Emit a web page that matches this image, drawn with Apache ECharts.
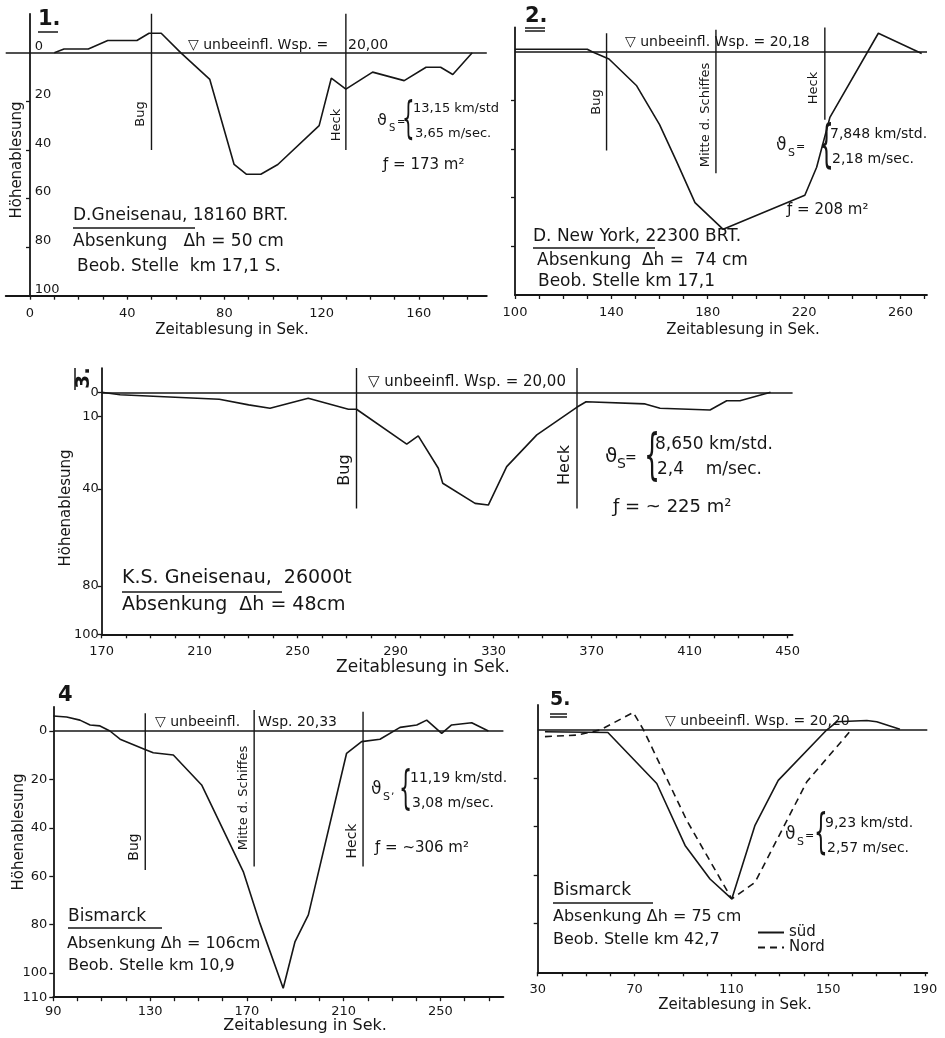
<!DOCTYPE html>
<html lang="de">
<head>
<meta charset="UTF-8">
<title>Absenkung - Höhenablesung</title>
<style>
  html, body { margin: 0; padding: 0; background: #fff; }
  #main { width: 945px; height: 1038px; }
</style>
</head>
<body>
<div id="main"></div>
<script src="https://cdn.jsdelivr.net/npm/echarts@6/dist/echarts.min.js"></script>
<script>
// --- Daten (Zeitablesung in Sek. / Höhenablesung in cm) ---
// 1. D. Gneisenau
var p1Time = [10, 14, 24, 32, 44, 49, 54, 62, 74, 84, 89, 95, 102, 119, 124, 130, 141, 154, 163, 169, 174, 182];
var p1Level = [0, -1.5, -1.5, -5, -5, -8, -8, 0, 11, 46, 50, 50, 46, 30, 10.5, 15, 8, 11.5, 6, 6, 9, 0];
var p1MarkNames = ['Bug', 'Heck'];
var p1MarkTime = [50, 130];
var p1MarkFrom = [-16, -16];
var p1MarkTo = [40, 40];

// 2. D. New York
var p2Time = [100, 130, 132, 139, 150.5, 160, 167, 174.7, 186.4, 220.3, 225.2, 230.7, 250.8, 268.8];
var p2Level = [-1, -1, 0, 3, 14, 30, 45, 62, 73, 59, 47.5, 27, -7.6, 0.7];
var p2MarkNames = ['Bug', 'Mitte d. Schiffes', 'Heck'];
var p2MarkTime = [138, 183.4, 228.6];
var p2MarkFrom = [-7.6, -9, -10];
var p2MarkTo = [40.6, 50, 28];

// 3. K.S. Gneisenau
var p3Time = [170, 177.5, 218, 230, 238.7, 254.3, 270.7, 274, 294.5, 299.2, 307.4, 309.2, 322.4, 327.8, 335.3, 347.6, 363.9, 367.7, 391.8, 397.9, 418.3, 425.1, 430.5, 443];
var p3Level = [0, 1, 2.9, 5.2, 6.6, 2.5, 7, 7, 21.4, 18, 31.4, 37.6, 45.9, 46.6, 30.7, 17.6, 6.2, 3.9, 4.8, 6.6, 7.3, 3.5, 3.5, 0];
var p3MarkNames = ['Bug', 'Heck'];
var p3MarkTime = [274, 364];
var p3MarkFrom = [-10, -10];
var p3MarkTo = [48, 48];

// 4. Bismarck, km 10,9
var p4Time = [90, 95.5, 101, 105.2, 109.3, 113.4, 117.6, 127.9, 131.3, 139.6, 151.3, 168.5, 175.4, 185, 189.9, 195.4, 211.2, 217.4, 225, 233.3, 240.2, 244.3, 250.5, 254.6, 262.9, 269.8];
var p4Level = [-6.2, -5.8, -4.5, -2.5, -2.1, 0, 3.4, 7.6, 9, 9.9, 22.3, 58.1, 79.5, 106.3, 87, 76, 9.2, 4.4, 3.4, -1.5, -2.5, -4.5, 1, -2.5, -3.4, 0];
var p4MarkNames = ['Bug', 'Mitte d. Schiffes', 'Heck'];
var p4MarkTime = [128, 173, 218];
var p4MarkFrom = [-7.3, -8.7, -8];
var p4MarkTo = [57.4, 56, 56];

// 5. Bismarck, km 42,7 (süd / Nord)
var p5SudTime = [33, 59, 79.2, 90.9, 101.2, 110.2, 119.8, 129.4, 149.4, 153.6, 166, 170.1, 179.7];
var p5SudLevel = [1, 1.3, 22.3, 47.8, 61.6, 69.8, 39.5, 21, 0.3, -3.1, -3.6, -3.1, 0];
var p5NordTime = [33, 46, 55.7, 69.5, 73.6, 91.6, 110.2, 119.8, 141.2, 159.8];
var p5NordLevel = [3, 2.4, 0.3, -6.9, 0, 37.5, 69.8, 63, 21.6, 0];

// Achsbeschriftungen
var p1XLabels = [0, 40, 80, 120, 160];
var p1YLabels = [0, 20, 40, 60, 80, 100];
var p2XLabels = [100, 140, 180, 220, 260];
var p3XLabels = [170, 210, 250, 290, 330, 370, 410, 450];
var p3YLabels = [0, 10, 40, 80, 100];
var p4XLabels = [90, 130, 170, 210, 250];
var p4YLabels = [0, 20, 40, 60, 80, 100, 110];
var p5XLabels = [30, 70, 110, 150, 190];
var yTicks = [20, 40, 60, 80];

var INK = '#161616';
var FONT = 'DejaVu Sans';

function range(a, b, s) {
    var r = [];
    for (var v = a; v <= b; v += s) r.push(v);
    return r;
}
function pairs(xs, ys) {
    return xs.map(function (x, i) { return [x, ys[i]]; });
}

function xAx(i, min, max, labels, margin) {
    return {
        type: 'value', gridIndex: i, min: min, max: max, position: 'bottom',
        splitLine: { show: false },
        axisLine: { onZero: false, lineStyle: { color: INK, width: 1.8 } },
        axisTick: { customValues: range(labels[0], max, 10), length: 4, lineStyle: { color: INK, width: 1.3 } },
        axisLabel: { customValues: labels, color: INK, fontSize: 13, fontFamily: FONT, margin: margin || 11 }
    };
}
function yAx(i, min, max, labels, ticks, label) {
    return {
        type: 'value', gridIndex: i, min: min, max: max, inverse: true,
        splitLine: { show: false },
        axisLine: { lineStyle: { color: INK, width: 1.8 } },
        axisTick: { customValues: ticks, length: 4, lineStyle: { color: INK, width: 1.3 } },
        axisLabel: labels ? Object.assign({ customValues: labels, color: INK, fontSize: 13, fontFamily: FONT, margin: 4 }, label || {}) : { show: false }
    };
}

function profile(i, xs, ys, name, dashed, water) {
    var s = {
        type: 'line', name: name, xAxisIndex: i, yAxisIndex: i, data: pairs(xs, ys),
        symbol: 'none', silent: true, animation: false,
        lineStyle: { color: INK, width: 1.6, type: dashed ? [7, 5] : 'solid' },
        itemStyle: { color: INK }
    };
    if (water) {
        s.markLine = {
            silent: true, symbol: ['none', 'none'], label: { show: false }, animation: false,
            lineStyle: { color: INK, width: 1.6, type: 'solid' },
            data: [{ yAxis: 0 }]
        };
    }
    return s;
}
function markers(i, times, from, to) {
    return times.map(function (t, k) {
        return {
            type: 'line', xAxisIndex: i, yAxisIndex: i, data: [[t, from[k]], [t, to[k]]],
            symbol: 'none', silent: true, animation: false,
            lineStyle: { color: INK, width: 1.4 }
        };
    });
}

// --- Beschriftungen ---
var G = [];
function T(x, y, s, size, o) {
    o = o || {};
    G.push({
        type: 'text', x: x, y: y, rotation: o.rot ? Math.PI / 2 : 0, scaleX: o.sx || 1, silent: true,
        style: {
            text: s, fill: INK, fontSize: size, fontFamily: FONT, fontWeight: o.bold ? 'bold' : 'normal',
            textAlign: o.align || (o.rot ? 'center' : 'left'), textVerticalAlign: 'middle'
        }
    });
}
function U(x1, y1, x2, y2) {
    G.push({ type: 'line', silent: true, shape: { x1: x1, y1: y1, x2: x2, y2: y2 }, style: { stroke: INK, lineWidth: 1.5 } });
}
// ϑS = { l1 / l2
function speed(x, y, l1, l2, size, braceSize, dx, sep) {
    T(x, y, 'ϑ', size + 3);
    T(x + 12, y + 7, 'S', size - 3);
    T(x + 20, y + 1, sep || '=', size - 3);
    T(x + dx - 11, y + 1, '{', braceSize, { sx: 0.45 });
    T(x + dx, y - 12, l1, size);
    T(x + dx + 2, y + 13, l2, size);
}

// Panel 1
T(38, 20, '1.', 21, { bold: true }); U(38, 32, 58, 32);
T(188, 45, '▽ unbeeinfl. Wsp. =', 14);
T(348, 45, '20,00', 14);
T(141, 114, 'Bug', 13, { rot: true });
T(337, 125, 'Heck', 13, { rot: true });
speed(377, 121, '13,15 km/std', '3,65 m/sec.', 13, 44, 36);
T(383, 165, 'ƒ = 173 m²', 15);
T(73, 216, 'D.Gneisenau, 18160 BRT.', 17); U(73, 228, 195, 228);
T(73, 242, 'Absenkung   Δh = 50 cm', 17);
T(77, 267, 'Beob. Stelle  km 17,1 S.', 17);
T(17, 160, 'Höhenablesung', 15, { rot: true });
T(232, 330, 'Zeitablesung in Sek.', 15, { align: 'center' });

// Panel 2
T(525, 17, '2.', 21, { bold: true }); U(525, 28, 545, 28); U(525, 31, 545, 31);
T(625, 42, '▽ unbeeinfl. Wsp. = 20,18', 14);
T(597, 102, 'Bug', 13, { rot: true });
T(706, 115, 'Mitte d. Schiffes', 13, { rot: true });
T(814, 88, 'Heck', 13, { rot: true });
speed(776, 146, '7,848 km/std.', '2,18 m/sec.', 14, 52, 54);
T(787, 210, 'ƒ = 208 m²', 15);
T(533, 237, 'D. New York, 22300 BRT.', 17); U(533, 248, 655, 248);
T(537, 261, 'Absenkung  Δh =  74 cm', 17);
T(538, 282, 'Beob. Stelle km 17,1', 17);
T(743, 330, 'Zeitablesung in Sek.', 15, { align: 'center' });

// Panel 3
T(84, 378, '3.', 20, { bold: true, rot: true }); U(75, 368, 75, 390);
T(368, 382, '▽ unbeeinfl. Wsp. = 20,00', 15);
T(345, 470, 'Bug', 16, { rot: true });
T(565, 465, 'Heck', 16, { rot: true });
speed(605, 457, '8,650 km/std.', '2,4    m/sec.', 17, 56, 50);
T(613, 507, 'ƒ = ~ 225 m²', 18);
T(122, 578, 'K.S. Gneisenau,  26000t', 19); U(122, 592, 282, 592);
T(122, 605, 'Absenkung  Δh = 48cm', 19);
T(66, 508, 'Höhenablesung', 15, { rot: true });
T(423, 668, 'Zeitablesung in Sek.', 17, { align: 'center' });

// Panel 4
T(58, 696, '4', 21, { bold: true });
T(155, 722, '▽ unbeeinfl.', 14);
T(258, 722, 'Wsp. 20,33', 14);
T(134, 847, 'Bug', 14, { rot: true });
T(244, 798, 'Mitte d. Schiffes', 13, { rot: true });
T(352, 841, 'Heck', 14, { rot: true });
speed(371, 790, '11,19 km/std.', '3,08 m/sec.', 14, 46, 39, ',');
T(375, 848, 'ƒ = ~306 m²', 15);
T(68, 917, 'Bismarck', 17); U(68, 928, 162, 928);
T(67, 944, 'Absenkung Δh = 106cm', 16);
T(68, 966, 'Beob. Stelle km 10,9', 16);
T(19, 832, 'Höhenablesung', 15, { rot: true });
T(305, 1026, 'Zeitablesung in Sek.', 16, { align: 'center' });

// Panel 5
T(550, 700, '5.', 19, { bold: true }); U(550, 714, 567, 714); U(550, 717, 567, 717);
T(665, 721, '▽ unbeeinfl. Wsp. = 20,20', 14);
speed(785, 835, '9,23 km/std.', '2,57 m/sec.', 14, 48, 40);
T(553, 891, 'Bismarck', 17); U(553, 903, 653, 903);
T(553, 917, 'Absenkung Δh = 75 cm', 16);
T(553, 940, 'Beob. Stelle km 42,7', 16);
T(735, 1005, 'Zeitablesung in Sek.', 15, { align: 'center' });

var gridBase = { containLabel: false, outerBoundsMode: 'none' };
var option = {
    backgroundColor: '#fff',
    animation: false,
    textStyle: { fontFamily: FONT, color: INK },
    grid: [
        Object.assign({ left: 5.7, top: 13.8, width: 481.1, height: 281.9 }, gridBase),
        Object.assign({ left: 515, top: 27.4, width: 412, height: 267.6 }, gridBase),
        Object.assign({ left: 101.7, top: 368.1, width: 690.9, height: 266.2 }, gridBase),
        Object.assign({ left: 53.3, top: 706.8, width: 450.1, height: 290.4 }, gridBase),
        Object.assign({ left: 537.7, top: 705, width: 389.6, height: 267.3 }, gridBase)
    ],
    xAxis: [
        xAx(0, -10, 188, p1XLabels),
        xAx(1, 100, 271, p2XLabels),
        xAx(2, 170, 452, p3XLabels),
        xAx(3, 90, 276, p4XLabels, 8),
        xAx(4, 30, 191, p5XLabels)
    ],
    yAxis: [
        // labels sit to the right of the axis line (which lies on x = 0)
        yAx(0, -16, 100, p1YLabels, yTicks, { inside: true, verticalAlign: 'bottom', margin: 29 }),
        yAx(1, -10, 100, null, yTicks),
        yAx(2, -10, 100, p3YLabels, p3YLabels, { margin: 3 }),
        yAx(3, -10, 110, p4YLabels, p4YLabels, { margin: 6 }),
        yAx(4, -10, 100, null, yTicks)
    ],
    legend: {
        orient: 'vertical', left: 752, top: 920, itemGap: 0, itemWidth: 26, itemHeight: 12,
        itemStyle: { opacity: 0 },
        textStyle: { color: INK, fontSize: 15, fontFamily: FONT },
        data: ['süd', 'Nord']
    },
    graphic: { elements: G },
    series: [].concat(
        [profile(0, p1Time, p1Level, 'p1', false, true)],
        markers(0, p1MarkTime, p1MarkFrom, p1MarkTo),
        [profile(1, p2Time, p2Level, 'p2', false, true)],
        markers(1, p2MarkTime, p2MarkFrom, p2MarkTo),
        [profile(2, p3Time, p3Level, 'p3', false, true)],
        markers(2, p3MarkTime, p3MarkFrom, p3MarkTo),
        [profile(3, p4Time, p4Level, 'p4', false, true)],
        markers(3, p4MarkTime, p4MarkFrom, p4MarkTo),
        [profile(4, p5SudTime, p5SudLevel, 'süd', false, true)],
        [profile(4, p5NordTime, p5NordLevel, 'Nord', true, false)]
    )
};

var chart = echarts.init(document.getElementById('main'));
chart.setOption(option);
window.onresize = function () { chart.resize(); };
</script>
</body>
</html>
